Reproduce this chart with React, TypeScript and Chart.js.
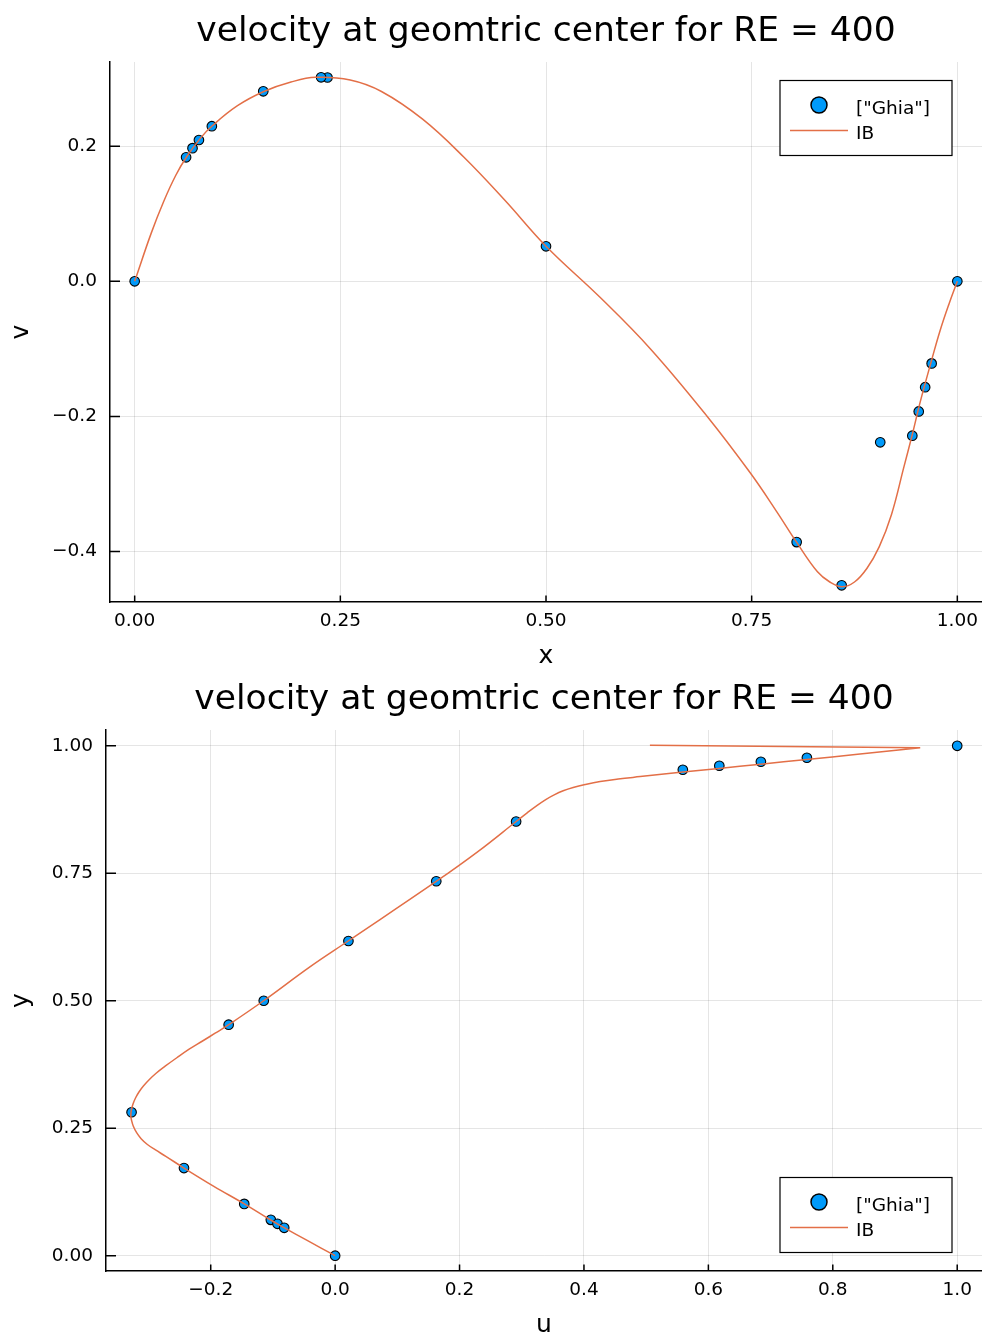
import { useEffect, useRef } from "react";
import { Chart, registerables } from "chart.js";

Chart.register(...registerables);

const FONT = '"DejaVu Sans", sans-serif';
const BLUE = "rgb(0,154,250)";
const ORANGE = "rgb(227,111,71)";
const GRID = "rgba(0,0,0,0.1)";

const TITLE = "velocity at geomtric center for RE = 400";
const GHIA_LABEL = '["Ghia"]';
const IB_LABEL = "IB";

// Horizontal centreline: v against x
const ghiaX = [1.0, 0.9688, 0.9609, 0.9531, 0.9453, 0.9063, 0.8594, 0.8047, 0.5, 0.2344, 0.2266, 0.1563, 0.0938, 0.0781, 0.0703, 0.0625, 0.0];
const ghiaV = [0, -0.12146, -0.15663, -0.19254, -0.22847, -0.23827, -0.44993, -0.38598, 0.05188, 0.30174, 0.30203, 0.28124, 0.22965, 0.2092, 0.19713, 0.1836, 0];
const ibX = [0, 0.02, 0.035, 0.05, 0.063, 0.08, 0.095, 0.125, 0.157, 0.19, 0.22, 0.262, 0.3, 0.35, 0.4, 0.45, 0.5, 0.566, 0.627, 0.696, 0.748, 0.78, 0.804, 0.83, 0.845, 0.86, 0.875, 0.89, 0.905, 0.92, 0.935, 0.945, 0.955, 0.968, 0.979, 0.99, 1.0];
const ibV = [0, 0.071, 0.1175, 0.157, 0.184, 0.212, 0.231, 0.26, 0.281, 0.295, 0.302, 0.298, 0.281, 0.24, 0.184, 0.12, 0.052, -0.024, -0.1, -0.2, -0.283, -0.34, -0.385, -0.43, -0.445, -0.452, -0.445, -0.425, -0.393, -0.345, -0.275, -0.228, -0.178, -0.12, -0.073, -0.033, 0];
const vTicksX = [0, 0.25, 0.5, 0.75, 1.0];
const vTickLabelsX = ["0.00", "0.25", "0.50", "0.75", "1.00"];
const vTicksY = [-0.4, -0.2, 0, 0.2];
const vTickLabelsY = ["\u22120.4", "\u22120.2", "0.0", "0.2"];

// Vertical centreline: u against y
const ghiaY = [1.0, 0.9766, 0.9688, 0.9609, 0.9531, 0.8516, 0.7344, 0.6172, 0.5, 0.4531, 0.2813, 0.1719, 0.1016, 0.0703, 0.0625, 0.0547, 0];
const ghiaU = [1.0, 0.75837, 0.68439, 0.61756, 0.55892, 0.29093, 0.16256, 0.02135, -0.11477, -0.17119, -0.32726, -0.24299, -0.14612, -0.10338, -0.09266, -0.08186, 0];
const ibU = [
  0, -0.045, -0.085, -0.105, -0.146, -0.195, -0.243, -0.2722, -0.2894, -0.3023, -0.3119, -0.3191,
  -0.3244, -0.3273, -0.3285, -0.3275, -0.3248, -0.3207, -0.3151, -0.3079, -0.299, -0.2878, -0.2733,
  -0.2545, -0.2347, -0.2138, -0.1929, -0.171, -0.115, -0.04, 0.021, 0.163, 0.23, 0.291,
  0.3087, 0.3248, 0.3392, 0.3521, 0.3666, 0.3826, 0.4019, 0.426, 0.455, 0.4904,
  0.559, 0.617, 0.684, 0.758, 0.84, 0.9405, 0.9405, 0.506,
];
const ibY = [
  0, 0.03, 0.057, 0.071, 0.1016, 0.136, 0.1719, 0.1949, 0.2078, 0.2186, 0.2294, 0.2412,
  0.2539, 0.2657, 0.2745, 0.2863, 0.298, 0.3098, 0.3216, 0.3333, 0.3451, 0.3578, 0.3716,
  0.3882, 0.4049, 0.4206, 0.4363, 0.4531, 0.5, 0.567, 0.6172, 0.7344, 0.793, 0.8516,
  0.8686, 0.8833, 0.8951, 0.9039, 0.9118, 0.9182, 0.9241, 0.93, 0.9349, 0.9396,
  0.9485, 0.9557, 0.964, 0.9731, 0.9833, 0.9962, 0.9962, 1.001,
];
const uTicksX = [-0.2, 0, 0.2, 0.4, 0.6, 0.8, 1.0];
const uTickLabelsX = ["\u22120.2", "0.0", "0.2", "0.4", "0.6", "0.8", "1.0"];
const uTicksY = [0, 0.25, 0.5, 0.75, 1.0];
const uTickLabelsY = ["0.00", "0.25", "0.50", "0.75", "1.00"];

type Pt = { x: number; y: number };
const zip = (xs: number[], ys: number[]): Pt[] => xs.map((x, i) => ({ x, y: ys[i] }));

// axis limits widened by 3% of the data span on each side
function paddedRange(values: number[]): [number, number] {
  const lo = Math.min(...values);
  const hi = Math.max(...values);
  const p = 0.03 * (hi - lo);
  return [lo - p, hi + p];
}

type PanelProps = {
  height: number;
  yAxisWidth: number;
  scatter: Pt[];
  curve: Pt[];
  xTicks: number[];
  xTickLabels: string[];
  yTicks: number[];
  yTickLabels: string[];
  xTitle: string;
  yTitle: string;
  legendAt: "top" | "bottom";
};

function Panel(props: PanelProps) {
  const ref = useRef<HTMLCanvasElement | null>(null);

  useEffect(() => {
    const canvas = ref.current;
    if (!canvas) return;
    const {
      scatter, curve, xTicks, xTickLabels, yTicks, yTickLabels,
      xTitle, yTitle, legendAt, yAxisWidth,
    } = props;

    const allX = [...scatter, ...curve].map((p) => p.x);
    const allY = [...scatter, ...curve].map((p) => p.y);
    const [xMin, xMax] = paddedRange(allX);
    const [yMin, yMax] = paddedRange(allY);

    const decor = {
      id: "decor",
      afterDraw(chart: any) {
        const { ctx, chartArea: a } = chart;
        const xs = chart.scales.x;
        const ys = chart.scales.y;
        ctx.save();

        // inward tick marks
        ctx.strokeStyle = "#000";
        ctx.lineWidth = 1.5;
        ctx.beginPath();
        for (const t of xTicks) {
          const px = xs.getPixelForValue(t);
          ctx.moveTo(px, a.bottom);
          ctx.lineTo(px, a.bottom - 6.5);
        }
        for (const t of yTicks) {
          const py = ys.getPixelForValue(t);
          ctx.moveTo(a.left, py);
          ctx.lineTo(a.left + 10, py);
        }
        ctx.stroke();

        // title
        ctx.fillStyle = "#000";
        ctx.textAlign = "center";
        ctx.textBaseline = "alphabetic";
        ctx.font = `34.5px ${FONT}`;
        ctx.fillText(TITLE, (a.left + a.right) / 2, 41);

        // axis titles
        ctx.font = `25px ${FONT}`;
        ctx.fillText(xTitle, (a.left + a.right) / 2, a.bottom + 61);
        ctx.save();
        ctx.translate(28, (a.top + a.bottom) / 2);
        ctx.rotate(-Math.PI / 2);
        ctx.fillText(yTitle, 0, 0);
        ctx.restore();

        // legend
        const boxW = 172;
        const boxH = 75;
        const bx = a.right - 202;
        const by = legendAt === "top" ? a.top + 18.5 : a.bottom - 18.5 - boxH;
        ctx.fillStyle = "#fff";
        ctx.fillRect(bx, by, boxW, boxH);
        ctx.strokeStyle = "#000";
        ctx.lineWidth = 1.2;
        ctx.strokeRect(bx, by, boxW, boxH);

        ctx.beginPath();
        ctx.arc(bx + 39, by + 24.5, 8, 0, Math.PI * 2);
        ctx.fillStyle = BLUE;
        ctx.fill();
        ctx.lineWidth = 1.5;
        ctx.strokeStyle = "#000";
        ctx.stroke();

        ctx.beginPath();
        ctx.moveTo(bx + 10, by + 50);
        ctx.lineTo(bx + 68, by + 50);
        ctx.strokeStyle = ORANGE;
        ctx.lineWidth = 1.5;
        ctx.stroke();

        ctx.fillStyle = "#000";
        ctx.textAlign = "left";
        ctx.font = `18.5px ${FONT}`;
        ctx.fillText(GHIA_LABEL, bx + 76, by + 33);
        ctx.fillText(IB_LABEL, bx + 76, by + 58);

        ctx.restore();
      },
    };

    const tickFont = { family: FONT, size: 18.5 };

    const chart = new Chart(canvas, {
      type: "line",
      data: {
        datasets: [
          {
            label: GHIA_LABEL,
            data: scatter,
            showLine: false,
            pointRadius: 4.8,
            pointHoverRadius: 4.8,
            pointBackgroundColor: BLUE,
            pointBorderColor: "#000",
            pointBorderWidth: 1.1,
            order: 1,
          },
          {
            label: IB_LABEL,
            data: curve,
            borderColor: ORANGE,
            borderWidth: 1.5,
            pointRadius: 0,
            fill: false,
            tension: 0.4,
            order: 0,
          },
        ],
      } as any,
      options: {
        responsive: false,
        animation: false,
        events: [],
        layout: { autoPadding: false, padding: { left: 0, right: 0, top: 62, bottom: 0 } },
        plugins: {
          legend: { display: false },
          title: { display: false },
          tooltip: { enabled: false },
        },
        scales: {
          x: {
            type: "linear",
            min: xMin,
            max: xMax,
            afterBuildTicks: (s: any) => {
              s.ticks = xTicks.map((value) => ({ value }));
            },
            afterFit: (s: any) => {
              s.height = 66;
              s.paddingLeft = 0;
              s.paddingRight = 0;
            },
            ticks: {
              autoSkip: false,
              maxRotation: 0,
              padding: 8,
              color: "#000",
              font: tickFont,
              callback: (_v: any, i: number) => xTickLabels[i],
            },
            grid: { color: GRID, lineWidth: 1, drawTicks: false },
            border: { display: true, color: "#000", width: 1.5 },
          },
          y: {
            type: "linear",
            min: yMin,
            max: yMax,
            afterBuildTicks: (s: any) => {
              s.ticks = yTicks.map((value) => ({ value }));
            },
            afterFit: (s: any) => {
              s.width = yAxisWidth;
              s.paddingTop = 0;
              s.paddingBottom = 0;
            },
            ticks: {
              autoSkip: false,
              padding: 13,
              color: "#000",
              font: tickFont,
              callback: (_v: any, i: number) => yTickLabels[i],
            },
            grid: { color: GRID, lineWidth: 1, drawTicks: false },
            border: { display: true, color: "#000", width: 1.5 },
          },
        },
      } as any,
      plugins: [decor],
    });

    return () => chart.destroy();
  }, []);

  return (
    <canvas
      ref={ref}
      width={982}
      height={props.height}
      style={{ display: "block", width: 982, height: props.height }}
    />
  );
}

export default function App() {
  return (
    <div style={{ position: "absolute", left: 0, top: 0, width: 982, height: 1337, background: "#fff" }}>
      <Panel
        height={668}
        yAxisWidth={110}
        scatter={zip(ghiaX, ghiaV)}
        curve={zip(ibX, ibV)}
        xTicks={vTicksX}
        xTickLabels={vTickLabelsX}
        yTicks={vTicksY}
        yTickLabels={vTickLabelsY}
        xTitle="x"
        yTitle="v"
        legendAt="top"
      />
      <Panel
        height={669}
        yAxisWidth={106}
        scatter={zip(ghiaU, ghiaY)}
        curve={zip(ibU, ibY)}
        xTicks={uTicksX}
        xTickLabels={uTickLabelsX}
        yTicks={uTicksY}
        yTickLabels={uTickLabelsY}
        xTitle="u"
        yTitle="y"
        legendAt="bottom"
      />
    </div>
  );
}
